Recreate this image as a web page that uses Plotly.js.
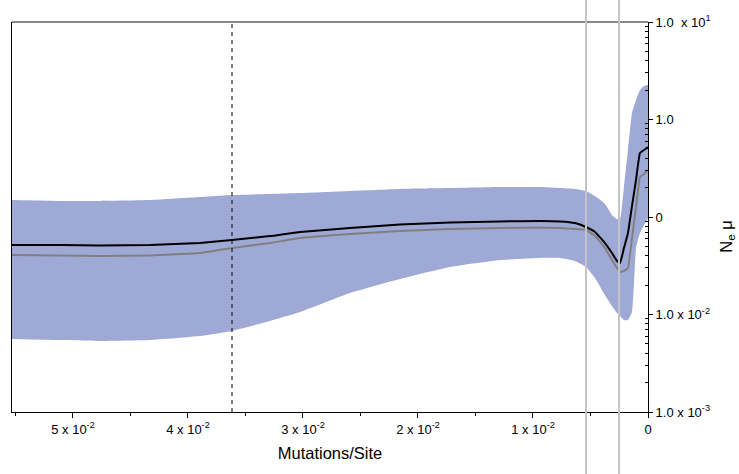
<!DOCTYPE html>
<html>
<head>
<meta charset="utf-8">
<script src="https://cdn.plot.ly/plotly-3.0.1.min.js"></script>
<style>html,body{margin:0;padding:0;background:#fff;}#chart{width:739px;height:474px;}</style>
</head>
<body>
<div id="chart"></div>
<script>
// Mutations/Site (time before present)
const mutationsPerSite = [0.05530, 0.05113, 0.04765, 0.04330, 0.03896, 0.03617, 0.03287, 0.03026, 0.02591, 0.02157, 0.01722, 0.01287, 0.00939, 0.00765, 0.00635, 0.00539, 0.00461, 0.00374, 0.00313, 0.00270, 0.00243, 0.00209, 0.00174, 0.00139, 0.00104, 0.00070, 0.00035, 0];
const medianNe = [0.0516, 0.0516, 0.0510, 0.0516, 0.0541, 0.0581, 0.0638, 0.0702, 0.0771, 0.0838, 0.0879, 0.0900, 0.0910, 0.0900, 0.0867, 0.0789, 0.0702, 0.0541, 0.0427, 0.0354, 0.0337, 0.0481, 0.0686, 0.130, 0.241, 0.453, 0.486, 0.522];
const meanNe = [0.0408, 0.0403, 0.0398, 0.0403, 0.0427, 0.0481, 0.0541, 0.0609, 0.0669, 0.0718, 0.0754, 0.0771, 0.0780, 0.0771, 0.0754, 0.0736, 0.0638, 0.0481, 0.0362, 0.0300, 0.0273, 0.0279, 0.0300, 0.0609, 0.1267, 0.257, 0.276, 0.303];
const upperHPD = [0.149, 0.146, 0.146, 0.149, 0.160, 0.168, 0.172, 0.176, 0.185, 0.194, 0.198, 0.203, 0.203, 0.198, 0.194, 0.185, 0.164, 0.136, 0.105, 0.0953, 0.0953, 0.203, 0.486, 1.167, 1.585, 2.01, 2.21, 2.26];
const lowerHPD = [0.00561, 0.00547, 0.00535, 0.00547, 0.00601, 0.00678, 0.00857, 0.0106, 0.0166, 0.0231, 0.0307, 0.0362, 0.0380, 0.0380, 0.0354, 0.0307, 0.0237, 0.0158, 0.0122, 0.01036, 0.00966, 0.00879, 0.00879, 0.0106, 0.0481, 0.0686, 0.0828, 0.0977];

const xTickVals = [0.05, 0.04, 0.03, 0.02, 0.01, 0];
const xTickText = ['5 x 10<sup>-2</sup>', '4 x 10<sup>-2</sup>', '3 x 10<sup>-2</sup>', '2 x 10<sup>-2</sup>', '1 x 10<sup>-2</sup>', '0'];
const yTickVals = [10, 1, 0.1, 0.01, 0.001];
const yTickText = ['1.0  x 10<sup>1</sup>', '1.0', '0', '1.0 x 10<sup>-2</sup>', '1.0 x 10<sup>-3</sup>'];
const dashedLineAt = 0.03617;
const greyLinesAt = [0.00539, 0.00252];

const xRange = [0.0553, 0];

const yMinor = [];
[0.001, 0.01, 0.1, 1].forEach(d => { for (let m = 2; m <= 9; m++) yMinor.push(d * m); });

const traces = [
  {x: mutationsPerSite, y: upperHPD, type: 'scatter', mode: 'lines', line: {width: 0, color: '#9FA9D6', shape: 'spline', smoothing: 0.4}, hoverinfo: 'skip', showlegend: false},
  {x: mutationsPerSite, y: lowerHPD, type: 'scatter', mode: 'lines', fill: 'tonexty', fillcolor: '#9FA9D6', line: {width: 0, color: '#9FA9D6', shape: 'spline', smoothing: 0.4}, hoverinfo: 'skip', showlegend: false},
  {x: mutationsPerSite, y: meanNe, type: 'scatter', mode: 'lines', line: {color: '#808080', width: 2, shape: 'spline', smoothing: 0.3}, showlegend: false},
  {x: mutationsPerSite, y: medianNe, type: 'scatter', mode: 'lines', line: {color: '#000000', width: 2, shape: 'spline', smoothing: 0.3}, showlegend: false}
];

const shapes = [
  {type: 'line', xref: 'x', yref: 'paper', x0: dashedLineAt, x1: dashedLineAt, y0: 0, y1: 1, line: {color: '#000', width: 1, dash: '4px,4px'}},
  {type: 'line', xref: 'paper', yref: 'paper', x0: 0, x1: 1, y0: 1, y1: 1, line: {color: '#888', width: 2}}
];
greyLinesAt.forEach(v => shapes.push({type: 'line', xref: 'x', yref: 'paper', x0: v, x1: v, y0: -0.2, y1: 1.1, line: {color: '#C4C4C4', width: 2}}));

const layout = {
  width: 739, height: 474,
  margin: {l: 12, r: 91, t: 22, b: 62},
  paper_bgcolor: '#fff', plot_bgcolor: '#fff',
  font: {family: 'Liberation Sans, Arial, sans-serif', size: 13, color: '#000'},
  showlegend: false,
  xaxis: {
    range: xRange, showgrid: false, zeroline: false,
    showline: true, linecolor: '#000', linewidth: 1,
    ticks: 'outside', ticklen: 5, tickcolor: '#000',
    tickmode: 'array', tickvals: xTickVals, ticktext: xTickText,
    tickfont: {size: 13},
    minor: {ticks: 'outside', ticklen: 3, tickcolor: '#000', tickvals: [0.055, 0.045, 0.035, 0.025, 0.015, 0.005]},
    title: {text: 'Mutations/Site', font: {size: 16.5}, standoff: 11},
    automargin: false
  },
  yaxis: {
    type: 'log', range: [-3, 1], side: 'right',
    showgrid: false, zeroline: false,
    showline: true, linecolor: '#000', linewidth: 1, mirror: true,
    ticks: 'outside', ticklen: 4, tickcolor: '#000',
    tickmode: 'array', tickvals: yTickVals, ticktext: yTickText,
    tickfont: {size: 13},
    minor: {ticks: 'inside', ticklen: 3, tickcolor: '#000', tickvals: yMinor},
    automargin: false
  },
  annotations: [
    {text: 'N<sub>e</sub> μ', xref: 'paper', yref: 'paper', x: 1.124, y: 0.449, xanchor: 'center', yanchor: 'middle', textangle: -90, showarrow: false, font: {size: 16.5}}
  ],
  shapes: shapes
};

Plotly.newPlot('chart', traces, layout, {displayModeBar: false, staticPlot: true});
</script>
</body>
</html>
